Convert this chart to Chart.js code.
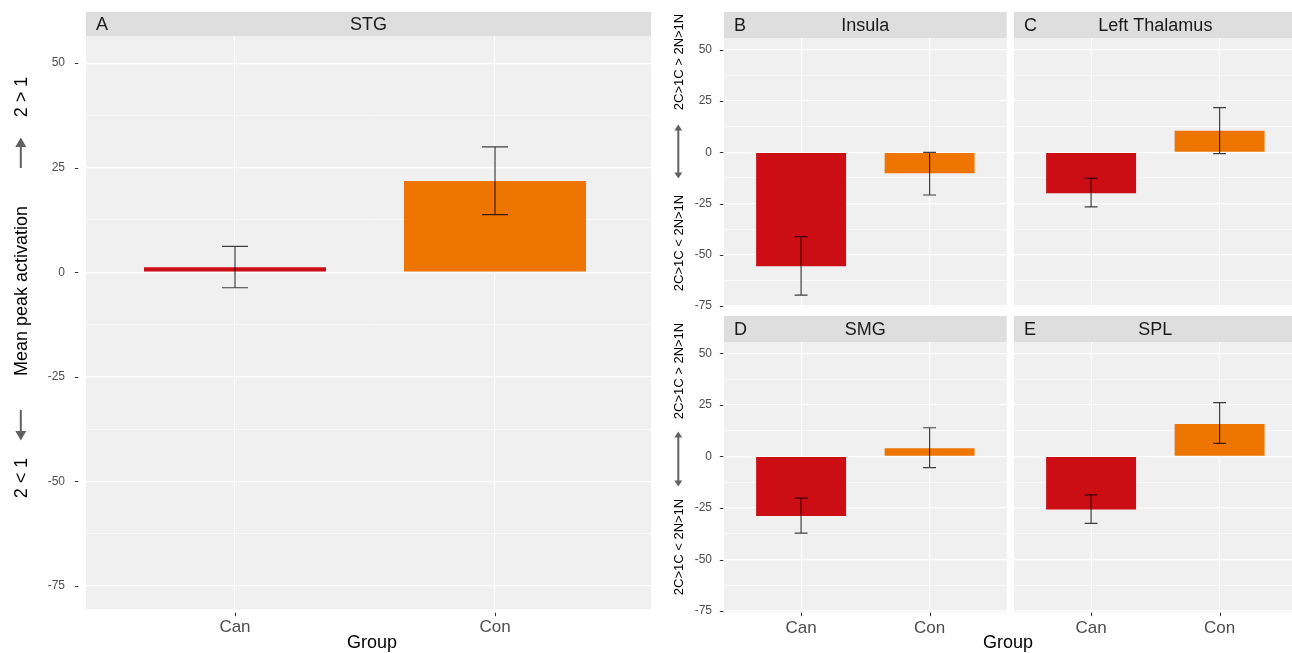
<!DOCTYPE html>
<html>
<head>
<meta charset="utf-8"/>
<title>Mean peak activation by group</title>
<script src="https://cdn.jsdelivr.net/npm/chart.js"></script>
<style>
html, body { margin:0; padding:0; background:#fff; overflow:hidden; }
body { width:1292px; height:653px; position:relative; font-family:"Liberation Sans", Arial, sans-serif; }
canvas { position:absolute; }
.rot { position:absolute; white-space:nowrap; line-height:1; color:#000; transform:translate(-50%,-50%) rotate(-90deg); }
.ttl { position:absolute; white-space:nowrap; line-height:1; color:#000; font-size:18px; transform:translate(-50%,-50%); }
svg { position:absolute; left:0; top:0; }
</style>
</head>
<body>
<canvas id="cA" width="660" height="653" style="left:0;top:0"></canvas>
<canvas id="cB" width="370" height="330" style="left:640px;top:0"></canvas>
<canvas id="cC" width="290" height="330" style="left:1010px;top:0"></canvas>
<canvas id="cD" width="370" height="343" style="left:640px;top:310px"></canvas>
<canvas id="cE" width="290" height="343" style="left:1010px;top:310px"></canvas>

<div class="rot" style="left:20.5px;top:97px;font-size:18px">2 &gt; 1</div>
<div class="rot" style="left:20.5px;top:291px;font-size:18px">Mean peak activation</div>
<div class="rot" style="left:20.5px;top:478px;font-size:18px">2 &lt; 1</div>
<div class="rot" style="left:678.3px;top:61.5px;font-size:13px">2C&gt;1C &gt; 2N&gt;1N</div>
<div class="rot" style="left:678.3px;top:242.5px;font-size:13px">2C&gt;1C &lt; 2N&gt;1N</div>
<div class="rot" style="left:678.3px;top:371px;font-size:13px">2C&gt;1C &gt; 2N&gt;1N</div>
<div class="rot" style="left:678.3px;top:546.5px;font-size:13px">2C&gt;1C &lt; 2N&gt;1N</div>
<div class="ttl" style="left:372px;top:642px">Group</div>
<div class="ttl" style="left:1008px;top:642px">Group</div>

<svg width="1292" height="653">
  <g stroke="#606060" stroke-width="2" fill="#606060">
    <line x1="20.8" y1="168" x2="20.8" y2="146"/>
    <polygon stroke="none" points="20.8,137.5 15.3,147 26.3,147"/>
    <line x1="20.8" y1="410" x2="20.8" y2="432"/>
    <polygon stroke="none" points="20.8,440.5 15.3,431 26.3,431"/>
    <line x1="678.3" y1="129" x2="678.3" y2="174"/>
    <polygon stroke="none" points="678.3,124.5 674.4,130.5 682.2,130.5"/>
    <polygon stroke="none" points="678.3,178.5 674.4,172.5 682.2,172.5"/>
    <line x1="678.3" y1="436" x2="678.3" y2="482"/>
    <polygon stroke="none" points="678.3,431.5 674.4,437.5 682.2,437.5"/>
    <polygon stroke="none" points="678.3,486.5 674.4,480.5 682.2,480.5"/>
  </g>
</svg>

<script>
// groups and colours
const groups = ['Can', 'Con'];
const barColors = ['#CC0D14', '#EE7600'];

// y axis ticks (major with labels, minor grid only)
const yMajor = [-75, -50, -25, 0, 25, 50];
const yTickLabels = ['-75', '-50', '-25', '0', '25', '50'];
const yMinor = [-62.5, -37.5, -12.5, 12.5, 37.5];

// A  STG
const stgMean = [1.2, 21.8];
const stgLow  = [-3.7, 13.8];
const stgHigh = [6.2, 30.0];
// B  Insula
const insulaMean = [-55.6, -10.2];
const insulaLow  = [-69.7, -20.8];
const insulaHigh = [-41.1, 0.0];
// C  Left Thalamus
const thalMean = [-20.0, 10.6];
const thalLow  = [-26.6, -0.6];
const thalHigh = [-12.7, 21.8];
// D  SMG
const smgMean = [-28.9, 4.0];
const smgLow  = [-37.2, -5.4];
const smgHigh = [-20.2, 13.9];
// E  SPL
const splMean = [-25.7, 15.7];
const splLow  = [-32.5, 6.3];
const splHigh = [-18.6, 26.1];

Chart.defaults.font.family = '"Liberation Sans", Arial, sans-serif';

const yGrid = yMajor.concat(yMinor).sort(function(a, b){ return a - b; });

const facetPlugin = {
  id: 'facet',
  beforeDraw: function(chart, args, o){
    const ctx = chart.ctx, a = chart.chartArea;
    ctx.save();
    ctx.fillStyle = '#F0F0F0';
    ctx.fillRect(a.left, a.top, a.right - a.left, a.bottom - a.top);
    ctx.fillStyle = '#DEDEDE';
    ctx.fillRect(a.left, a.top - o.stripH, a.right - a.left, o.stripH);
    ctx.fillStyle = '#1A1A1A';
    ctx.font = '18px "Liberation Sans", Arial, sans-serif';
    ctx.textBaseline = 'middle';
    ctx.textAlign = 'left';
    ctx.fillText(o.letter, a.left + 10, a.top - o.stripH / 2 + 1);
    ctx.textAlign = 'center';
    ctx.fillText(o.title, (a.left + a.right) / 2, a.top - o.stripH / 2 + 1);
    ctx.restore();
  },
  afterDatasetsDraw: function(chart, args, o){
    const ctx = chart.ctx, a = chart.chartArea;
    const x = chart.scales.x, y = chart.scales.y;
    ctx.save();
    // error bars
    ctx.strokeStyle = 'rgba(0,0,0,0.75)';
    ctx.lineWidth = 1.2;
    o.low.forEach(function(lo, i){
      const hi = o.high[i];
      const px = x.getPixelForValue(i);
      const c0 = x.getPixelForValue(i - 0.05), c1 = x.getPixelForValue(i + 0.05);
      const y0 = y.getPixelForValue(lo), y1 = y.getPixelForValue(hi);
      ctx.beginPath();
      ctx.moveTo(px, y0); ctx.lineTo(px, y1);
      ctx.moveTo(c0, y0); ctx.lineTo(c1, y0);
      ctx.moveTo(c0, y1); ctx.lineTo(c1, y1);
      ctx.stroke();
    });
    // tick marks
    ctx.strokeStyle = '#333333';
    ctx.lineWidth = 1;
    if (o.yTicks) {
      yMajor.forEach(function(v){
        const py = Math.round(y.getPixelForValue(v)) + 0.5;
        ctx.beginPath();
        ctx.moveTo(a.left - o.yGap - 3.5, py); ctx.lineTo(a.left - o.yGap, py);
        ctx.stroke();
      });
    }
    if (o.xTicks) {
      groups.forEach(function(g, i){
        const px = Math.round(x.getPixelForValue(i)) + 0.5;
        ctx.beginPath();
        ctx.moveTo(px, a.bottom + o.xGap); ctx.lineTo(px, a.bottom + o.xGap + 3.5);
        ctx.stroke();
      });
    }
    ctx.restore();
  }
};

function makeChart(id, p){
  return new Chart(document.getElementById(id), {
    type: 'bar',
    data: {
      datasets: [{
        data: p.mean.map(function(v, i){ return { x: i, y: v }; }),
        backgroundColor: barColors,
        borderWidth: 0,
        barPercentage: 0.7,
        categoryPercentage: 1
      }]
    },
    options: {
      responsive: false,
      animation: false,
      layout: { padding: p.pad },
      plugins: {
        legend: { display: false },
        tooltip: { enabled: false },
        facet: {
          letter: p.letter, title: p.title, stripH: p.stripH,
          low: p.low, high: p.high,
          yTicks: p.yLabels, yGap: p.yGap,
          xTicks: p.xLabels, xGap: p.xGap
        }
      },
      scales: {
        x: {
          type: 'linear',
          offset: false,
          min: p.xmin, max: p.xmax,
          afterBuildTicks: function(s){ s.ticks = groups.map(function(g, i){ return { value: i }; }); },
          afterFit: function(s){ s.height = p.xH; },
          grid: { color: '#FFFFFF', lineWidth: 1.1, drawTicks: false, offset: false },
          border: { display: false },
          ticks: {
            display: p.xLabels, autoSkip: false, maxRotation: 0,
            padding: p.xPad, color: '#4D4D4D', font: { size: 17 },
            callback: function(v){ return groups[v]; }
          }
        },
        y: {
          min: p.ymin, max: p.ymax,
          afterBuildTicks: function(s){ s.ticks = yGrid.map(function(v){ return { value: v }; }); },
          afterFit: function(s){ s.width = p.yW; },
          grid: {
            color: '#FFFFFF', drawTicks: false,
            lineWidth: function(c){ return yMajor.indexOf(c.tick.value) >= 0 ? 1.3 : 0.6; }
          },
          border: { display: false },
          ticks: {
            display: p.yLabels, autoSkip: false,
            padding: p.yPad, color: '#4D4D4D', font: { size: 12 },
            callback: function(v){ const k = yMajor.indexOf(v); return k < 0 ? '' : yTickLabels[k]; }
          }
        }
      }
    },
    plugins: [facetPlugin]
  });
}

makeChart('cA', {
  letter: 'A', title: 'STG', mean: stgMean, low: stgLow, high: stgHigh,
  pad: { left: 0, top: 36, right: 9, bottom: 0 }, stripH: 24,
  xmin: -0.573, xmax: 1.6, ymin: -80.6, ymax: 56.5,
  yW: 86, xH: 43.7, yPad: 21, xPad: 8.3,
  yLabels: true, xLabels: true, yGap: 7.7, xGap: 3.4
});
makeChart('cB', {
  letter: 'B', title: 'Insula', mean: insulaMean, low: insulaLow, high: insulaHigh,
  pad: { left: 0, top: 38, right: 3.3, bottom: 0 }, stripH: 26,
  xmin: -0.6, xmax: 1.6, ymin: -75.3, ymax: 55.8,
  yW: 84, xH: 23.3, yPad: 12, xPad: 6,
  yLabels: true, xLabels: false, yGap: 0.7, xGap: 0.4
});
makeChart('cC', {
  letter: 'C', title: 'Left Thalamus', mean: thalMean, low: thalLow, high: thalHigh,
  pad: { left: 0, top: 38, right: 3.3, bottom: 0 }, stripH: 26,
  xmin: -0.6, xmax: 1.6, ymin: -75.3, ymax: 55.8,
  yW: 4, xH: 23.3, yPad: 12, xPad: 6,
  yLabels: false, xLabels: false, yGap: 0.7, xGap: 0.4
});
makeChart('cD', {
  letter: 'D', title: 'SMG', mean: smgMean, low: smgLow, high: smgHigh,
  pad: { left: 0, top: 32, right: 3.3, bottom: 0 }, stripH: 26,
  xmin: -0.6, xmax: 1.6, ymin: -75.6, ymax: 55.5,
  yW: 84, xH: 40.7, yPad: 12, xPad: 6,
  yLabels: true, xLabels: true, yGap: 0.7, xGap: 0.4
});
makeChart('cE', {
  letter: 'E', title: 'SPL', mean: splMean, low: splLow, high: splHigh,
  pad: { left: 0, top: 32, right: 3.3, bottom: 0 }, stripH: 26,
  xmin: -0.6, xmax: 1.6, ymin: -75.6, ymax: 55.5,
  yW: 4, xH: 40.7, yPad: 12, xPad: 6,
  yLabels: false, xLabels: true, yGap: 0.7, xGap: 0.4
});
</script>
</body>
</html>
